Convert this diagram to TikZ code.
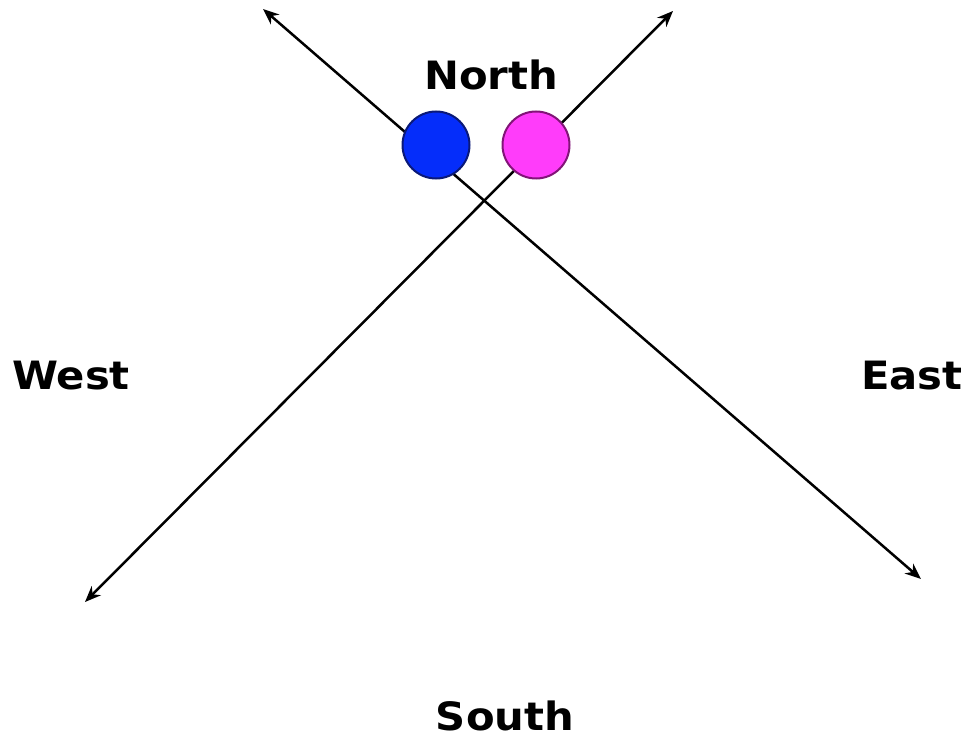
\documentclass[tikz,border=0pt]{standalone}
\usepackage{fontspec}
\setmainfont{DejaVu Sans}[FakeStretch=1.07]
\usetikzlibrary{arrows.meta}
\definecolor{dotblue}{RGB}{5,45,250}
\definecolor{dotblueedge}{RGB}{10,25,120}
\definecolor{dotpink}{RGB}{255,60,250}
\definecolor{dotpinkedge}{RGB}{130,20,120}
\tikzset{
  dir/.style={font=\fontsize{39}{44}\selectfont\bfseries, anchor=base, inner sep=0pt},
  axis/.style={line width=2.5pt, {Stealth[length=16pt,width=13pt]}-{Stealth[length=16pt,width=13pt]}},
  dot/.style={circle, minimum size=67pt, inner sep=0pt, line width=2pt}
}
\begin{document}
\begin{tikzpicture}[x=1pt,y=-1pt]
\useasboundingbox (0,0) rectangle (964,738);
\coordinate (nw) at (263,9);
\coordinate (se) at (921,579);
\coordinate (ne) at (673,11);
\coordinate (sw) at (85,602);
\draw[axis] (nw) -- (se);
\draw[axis] (ne) -- (sw);
\node[dot, fill=dotblue, draw=dotblueedge] (blue) at (436,145) {};
\node[dot, fill=dotpink, draw=dotpinkedge] (pink) at (536,145) {};
\node[dir] (north) at (491,90) {North};
\node[dir] (west) at (71,389) {West};
\node[dir] (east) at (912,389) {East};
\node[dir] (south) at (505,730) {South};
\end{tikzpicture}
\end{document}
